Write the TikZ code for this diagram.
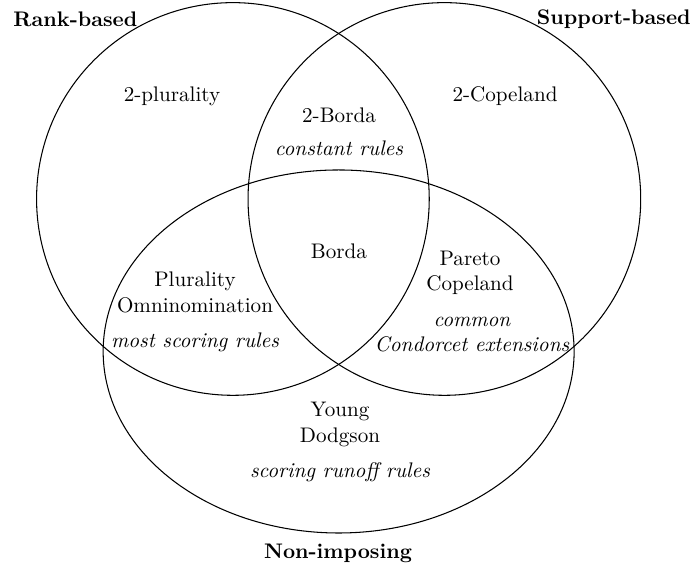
\documentclass[tikz,border=0pt]{standalone}
\usepackage{tikz}
\usetikzlibrary{positioning}

\begin{document}
\begin{tikzpicture}[
  %% Set outlines
  setline/.style={draw=black, line width=0.5pt},
  %% Set titles — bold
  sethdr/.style={font=\bfseries, inner sep=0pt},
  %% Rule names inside the regions
  rname/.style={align=center, inner sep=1pt},
  %% Classes of rules — italic
  rclass/.style={align=center, font=\itshape, inner sep=1pt}
]

\useasboundingbox (0,0) rectangle (11.542,9.493);

%% ── Sets ─────────────────────────────────────────────────────
\draw[setline] (3.879,6.179) circle (3.270);
\draw[setline] (7.401,6.179) circle (3.270);
\draw[setline] (5.640,3.639) ellipse [x radius=3.922, y radius=3.023];

%% ── Set titles ───────────────────────────────────────────────
\node[sethdr, anchor=west] (rank) at (0.217, 9.177) {Rank-based};
\node[sethdr, anchor=east] (supp) at (11.510, 9.177) {Support-based};
\node[sethdr] (nonimp) at (5.629, 0.283) {Non-imposing};

%% ── Regions ──────────────────────────────────────────────────
\node[rname] (plur2) at (2.865, 7.894) {2-plurality};
\node[rname] (cope2) at (8.411, 7.894) {2-Copeland};
\node[rname] (bord2) at (5.646, 7.578) {2-Borda};
\node[rclass] (const) at (5.646, 7.028) {constant rules};
\node[rname] (borda) at (5.646, 5.313) {Borda};

\node[rname] (plur) at (3.248, 4.622) {Plurality\\Omninomination};
\node[rclass] (score) at (3.248, 3.797) {most scoring rules};

\node[rname] (pare) at (7.828, 4.947) {Pareto\\Copeland};
\node[rclass] (condo) at (7.861, 3.922) {common\\Condorcet extensions};

\node[rname] (young) at (5.663, 2.423) {Young\\Dodgson};
\node[rclass] (runoff) at (5.663, 1.632) {scoring runoff rules};

\end{tikzpicture}
\end{document}
